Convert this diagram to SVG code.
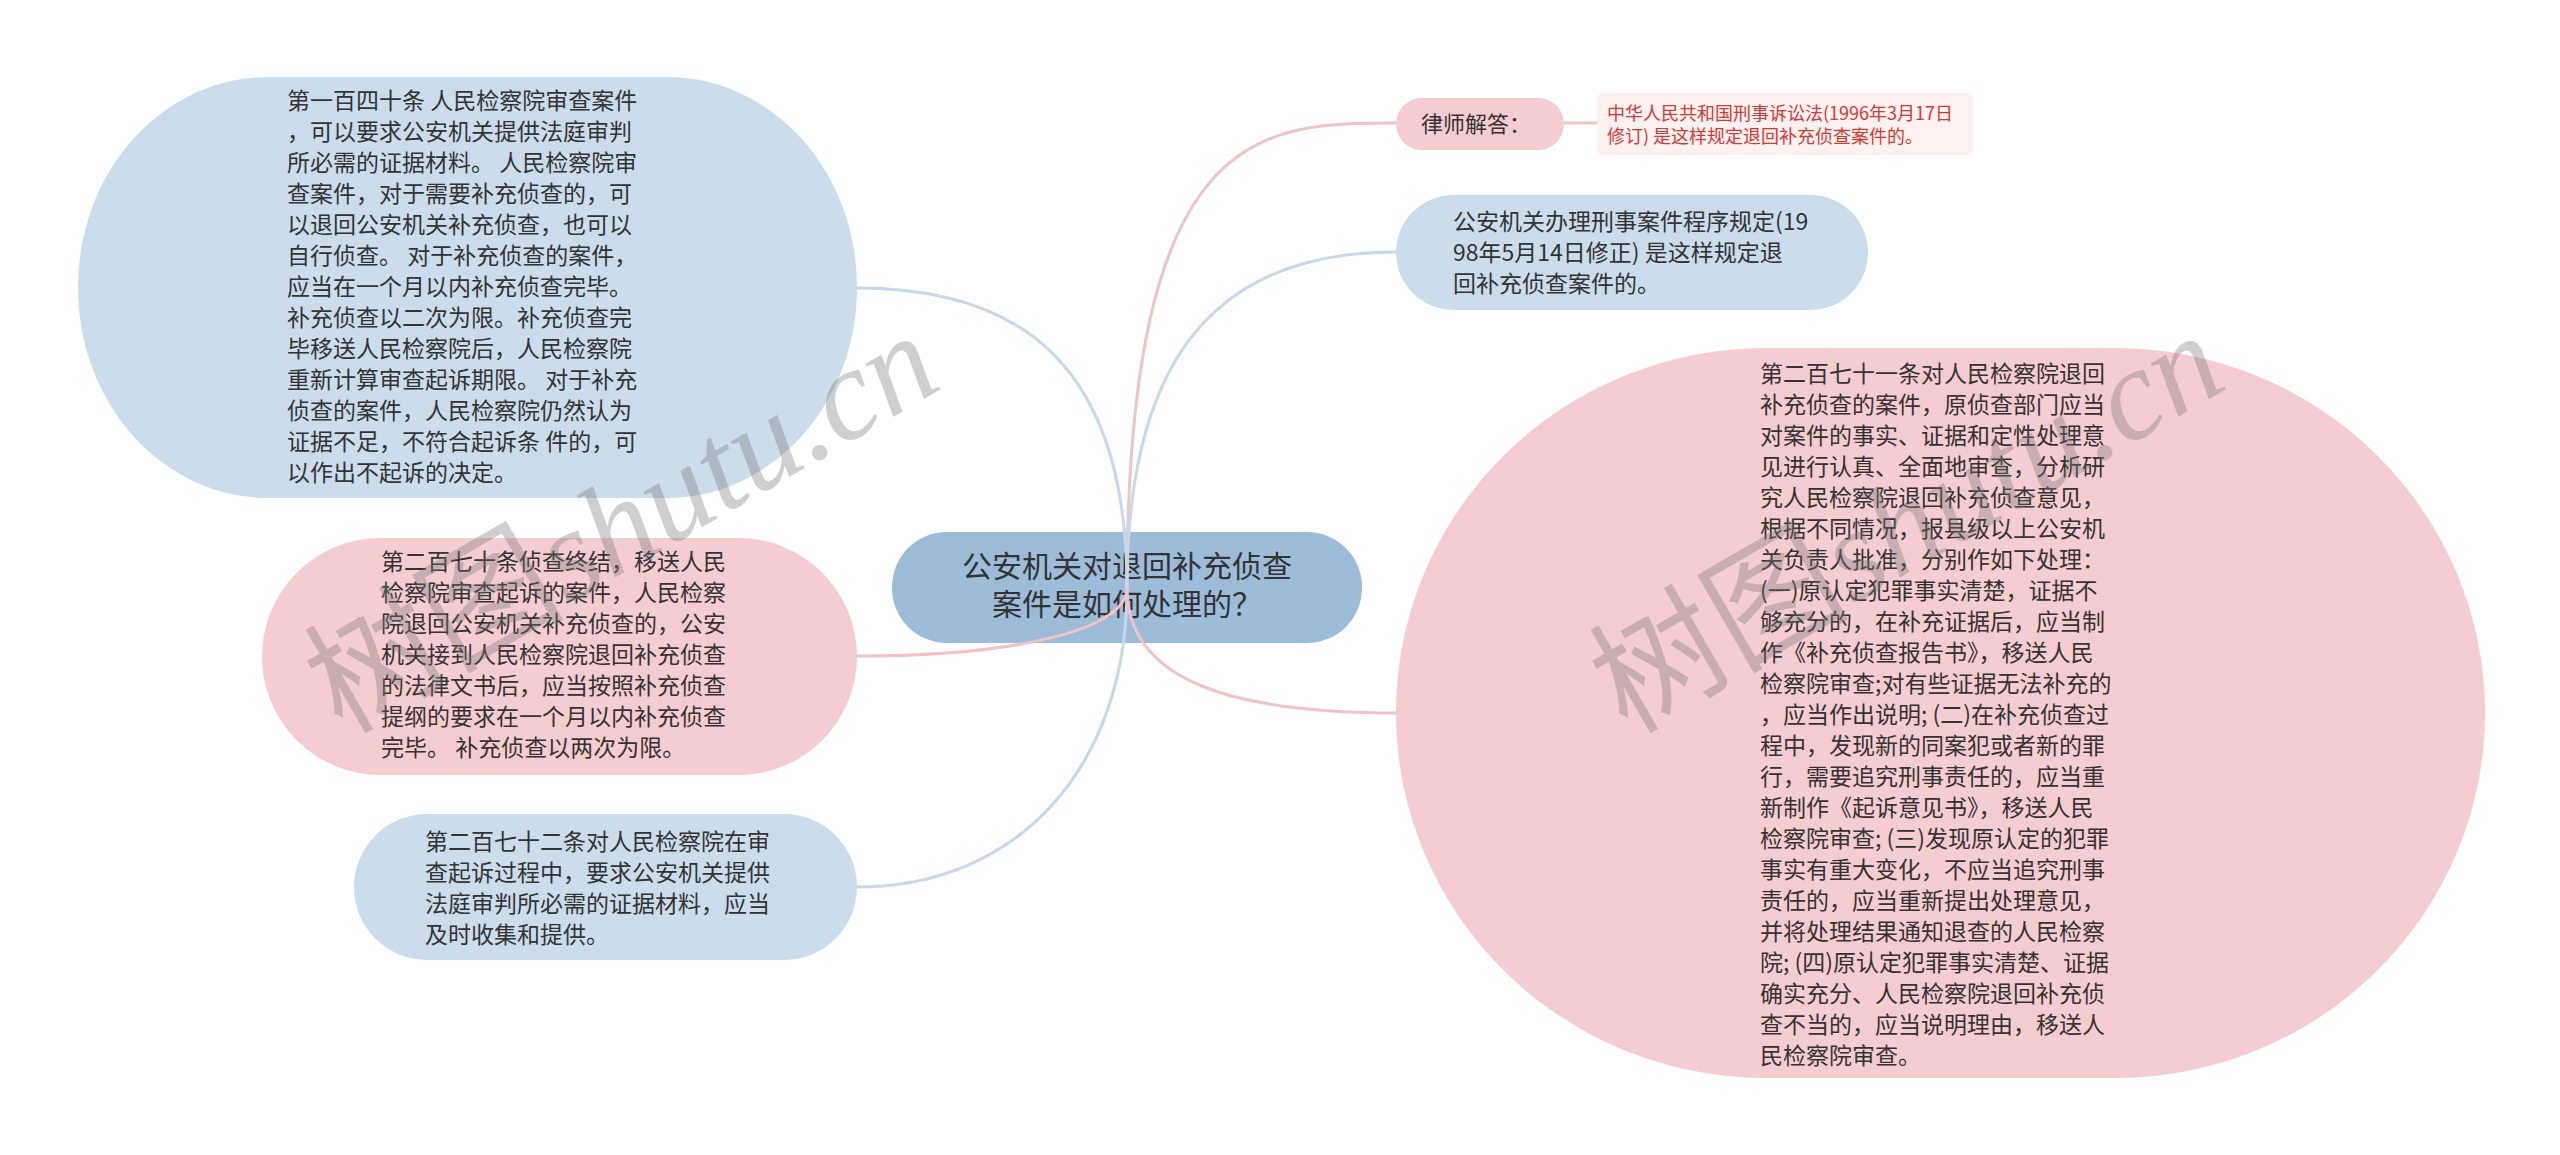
<svg xmlns="http://www.w3.org/2000/svg" width="2560" height="1155" viewBox="0 0 2560 1155">
<style>
.t{font-family:"Noto Sans CJK SC","Microsoft YaHei",sans-serif;font-size:23px;fill:#333333}
.blue{fill:#cbdcec}
.pink{fill:#f5cccf}
.root{fill:#9dbcd9}
.cb{fill:none;stroke:#c6d8ea;stroke-width:3}
.cp{fill:none;stroke:#f0c3c7;stroke-width:3}
.wm{font-family:"Liberation Serif","Noto Sans CJK SC",serif;font-size:130px;fill:#777777;opacity:0.35}
</style>
<rect width="2560" height="1155" fill="#ffffff"/>
<g id="root">
<rect class="root" x="892" y="532" width="470" height="111" rx="55" ry="55"/>
<text class="t" style="font-size:30px" text-anchor="middle"><tspan x="1127" y="577">公安机关对退回补充侦查</tspan><tspan x="1127" y="615">案件是如何处理的？</tspan></text>
</g>
<g id="connectors">
<path class="cb" d="M1127,588 C1127,363 1019,288 857,288"/>
<path class="cp" d="M1127,588 C1127,629 1019,656 857,656"/>
<path class="cb" d="M1127,588 C1127,766 1019,887 857,887"/>
<path class="cp" d="M1127,588 C1127,123 1261,123 1396,123"/>
<path class="cb" d="M1127,588 C1127,336 1235,252 1396,252"/>
<path class="cp" d="M1127,588 C1127,682 1235,713 1396,713"/>
<path class="cp" d="M1564,123 L1597,123"/>
</g>
<g id="node-art140">
<rect class="blue" x="78" y="77" width="779" height="421" rx="190" ry="210"/>
<text class="t"><tspan x="287" y="109">第一百四十条 人民检察院审查案件</tspan><tspan x="287" y="140">，可以要求公安机关提供法庭审判</tspan><tspan x="287" y="171">所必需的证据材料。 人民检察院审</tspan><tspan x="287" y="202">查案件，对于需要补充侦查的，可</tspan><tspan x="287" y="233">以退回公安机关补充侦查，也可以</tspan><tspan x="287" y="264">自行侦查。 对于补充侦查的案件，</tspan><tspan x="287" y="295">应当在一个月以内补充侦查完毕。</tspan><tspan x="287" y="326">补充侦查以二次为限。补充侦查完</tspan><tspan x="287" y="357">毕移送人民检察院后，人民检察院</tspan><tspan x="287" y="388">重新计算审查起诉期限。 对于补充</tspan><tspan x="287" y="419">侦查的案件，人民检察院仍然认为</tspan><tspan x="287" y="450">证据不足，不符合起诉条 件的，可</tspan><tspan x="287" y="481">以作出不起诉的决定。</tspan></text>
</g>
<g id="node-art270">
<rect class="pink" x="262" y="538" width="595" height="237" rx="118.5" ry="118.5"/>
<text class="t"><tspan x="381" y="570">第二百七十条侦查终结，移送人民</tspan><tspan x="381" y="601">检察院审查起诉的案件，人民检察</tspan><tspan x="381" y="632">院退回公安机关补充侦查的，公安</tspan><tspan x="381" y="663">机关接到人民检察院退回补充侦查</tspan><tspan x="381" y="694">的法律文书后，应当按照补充侦查</tspan><tspan x="381" y="725">提纲的要求在一个月以内补充侦查</tspan><tspan x="381" y="756">完毕。 补充侦查以两次为限。</tspan></text>
</g>
<g id="node-art272">
<rect class="blue" x="354" y="814" width="503" height="146" rx="73" ry="73"/>
<text class="t"><tspan x="425" y="850">第二百七十二条对人民检察院在审</tspan><tspan x="425" y="881">查起诉过程中，要求公安机关提供</tspan><tspan x="425" y="912">法庭审判所必需的证据材料，应当</tspan><tspan x="425" y="943">及时收集和提供。</tspan></text>
</g>
<g id="node-lawyer">
<rect class="pink" x="1396" y="98" width="168" height="52" rx="26" ry="26"/>
<text class="t" style="font-size:22px" x="1421" y="132">律师解答：</text>
</g>
<g id="node-law1996">
<rect x="1597" y="93" width="376" height="62" rx="6" ry="6" fill="#fdf1f1"/>
<text class="t" style="font-size:18px;fill:#d23a33"><tspan x="1607" y="120">中华人民共和国刑事诉讼法(1996年3月17日</tspan><tspan x="1607" y="143">修订) 是这样规定退回补充侦查案件的。</tspan></text>
</g>
<g id="node-rules1998">
<rect class="blue" x="1396" y="195" width="472" height="115" rx="57.5" ry="57.5"/>
<text class="t"><tspan x="1453" y="230">公安机关办理刑事案件程序规定(19</tspan><tspan x="1453" y="261">98年5月14日修正) 是这样规定退</tspan><tspan x="1453" y="292">回补充侦查案件的。</tspan></text>
</g>
<g id="node-art271">
<rect class="pink" x="1396" y="348" width="1089" height="730" rx="370" ry="365"/>
<text class="t"><tspan x="1760" y="382">第二百七十一条对人民检察院退回</tspan><tspan x="1760" y="413">补充侦查的案件，原侦查部门应当</tspan><tspan x="1760" y="444">对案件的事实、证据和定性处理意</tspan><tspan x="1760" y="475">见进行认真、全面地审查，分析研</tspan><tspan x="1760" y="506">究人民检察院退回补充侦查意见，</tspan><tspan x="1760" y="537">根据不同情况，报县级以上公安机</tspan><tspan x="1760" y="568">关负责人批准，分别作如下处理：</tspan><tspan x="1760" y="599">(一)原认定犯罪事实清楚，证据不</tspan><tspan x="1760" y="630">够充分的，在补充证据后，应当制</tspan><tspan x="1760" y="661">作《补充侦查报告书》，移送人民</tspan><tspan x="1760" y="692">检察院审查;对有些证据无法补充的</tspan><tspan x="1760" y="723">，应当作出说明; (二)在补充侦查过</tspan><tspan x="1760" y="754">程中，发现新的同案犯或者新的罪</tspan><tspan x="1760" y="785">行，需要追究刑事责任的，应当重</tspan><tspan x="1760" y="816">新制作《起诉意见书》，移送人民</tspan><tspan x="1760" y="847">检察院审查; (三)发现原认定的犯罪</tspan><tspan x="1760" y="878">事实有重大变化，不应当追究刑事</tspan><tspan x="1760" y="909">责任的，应当重新提出处理意见，</tspan><tspan x="1760" y="940">并将处理结果通知退查的人民检察</tspan><tspan x="1760" y="971">院; (四)原认定犯罪事实清楚、证据</tspan><tspan x="1760" y="1002">确实充分、人民检察院退回补充侦</tspan><tspan x="1760" y="1033">查不当的，应当说明理由，移送人</tspan><tspan x="1760" y="1064">民检察院审查。</tspan></text>
</g>
<g id="watermarks">
<text class="wm" transform="translate(342,735) rotate(-30)">树图<tspan font-style="italic">shutu.cn</tspan></text>
<text class="wm" transform="translate(1627,735) rotate(-30)">树图<tspan font-style="italic">shutu.cn</tspan></text>
</g>
</svg>
